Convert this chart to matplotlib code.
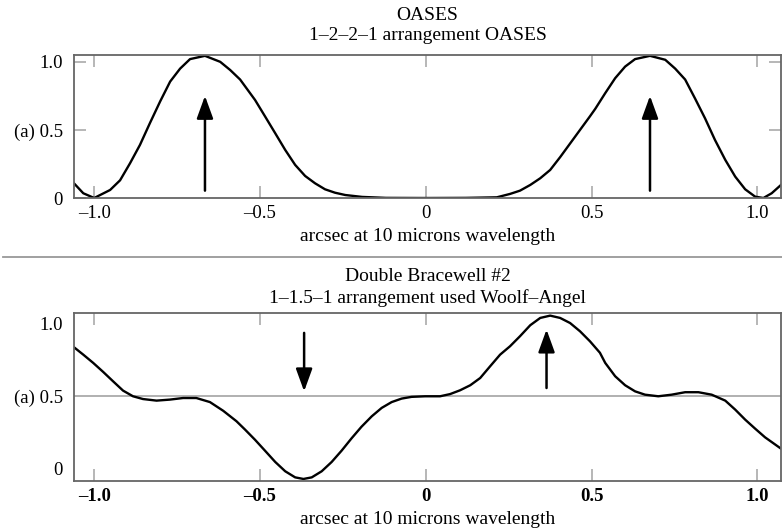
import numpy as np
import matplotlib
matplotlib.use("Agg")
import matplotlib.pyplot as plt
from matplotlib.lines import Line2D

plt.rcParams['font.family'] = ['Liberation Serif', 'DejaVu Serif']

# OASES response, 1-2-2-1 arrangement
oases_x = [-1.061, -1.033, -1.0, -0.952, -0.922, -0.892, -0.862, -0.832, -0.801,
           -0.771, -0.741, -0.711, -0.666, -0.620, -0.590, -0.560, -0.530, -0.515,
           -0.485, -0.454, -0.424, -0.394, -0.364, -0.334, -0.304, -0.274, -0.243,
           -0.192, -0.12, 0.0, 0.12, 0.214, 0.254, 0.284, 0.315, 0.345, 0.375,
           0.405, 0.435, 0.465, 0.495, 0.511, 0.541, 0.571, 0.601, 0.631, 0.676,
           0.722, 0.752, 0.782, 0.812, 0.842, 0.872, 0.903, 0.933, 0.963, 0.993,
           1.018, 1.043, 1.071]
oases_y = [0.108, 0.035, 0.0, 0.059, 0.13, 0.255, 0.39, 0.55, 0.71,
           0.855, 0.95, 1.02, 1.044, 1.0, 0.94, 0.87, 0.77, 0.72,
           0.60, 0.475, 0.353, 0.243, 0.162, 0.108, 0.064, 0.039, 0.022,
           0.008, 0.001, 0.0, 0.001, 0.005, 0.03, 0.054, 0.096, 0.145, 0.206,
           0.30, 0.40, 0.50, 0.60, 0.655, 0.77, 0.88, 0.965, 1.02, 1.044,
           1.015, 0.95, 0.87, 0.73, 0.585, 0.426, 0.28, 0.157, 0.064, 0.01,
           0.0, 0.035, 0.096]

# Double Bracewell #2 response, 1-1.5-1 arrangement
bw_x = [-1.061, -1.033, -1.003, -0.973, -0.943, -0.913, -0.883, -0.853, -0.812,
        -0.772, -0.732, -0.692, -0.651, -0.611, -0.571, -0.545, -0.515, -0.485,
        -0.454, -0.424, -0.394, -0.369, -0.344, -0.314, -0.284, -0.254, -0.224,
        -0.194, -0.163, -0.133, -0.103, -0.073, -0.043, -0.002, 0.043, 0.073,
        0.103, 0.134, 0.164, 0.194, 0.224, 0.254, 0.284, 0.315, 0.345, 0.375,
        0.405, 0.435, 0.465, 0.495, 0.525, 0.541, 0.571, 0.601, 0.631, 0.661,
        0.701, 0.741, 0.782, 0.822, 0.862, 0.903, 0.933, 0.963, 0.993, 1.023,
        1.071]
bw_y = [0.838, 0.787, 0.73, 0.668, 0.603, 0.539, 0.50, 0.481, 0.47,
        0.477, 0.488, 0.488, 0.46, 0.40, 0.328, 0.27, 0.20, 0.125,
        0.047, -0.017, -0.059, -0.07, -0.059, -0.017, 0.047, 0.125, 0.21,
        0.29, 0.362, 0.42, 0.46, 0.484, 0.496, 0.5, 0.5, 0.515,
        0.541, 0.576, 0.626, 0.707, 0.787, 0.845, 0.914, 0.99, 1.04, 1.056,
        1.04, 1.005, 0.948, 0.879, 0.80, 0.73, 0.638, 0.576, 0.534, 0.511,
        0.50, 0.511, 0.528, 0.528, 0.511, 0.47, 0.408, 0.339, 0.277, 0.217,
        0.139]

# arrows: (x, tail y, head y)
oases_arrows = [(-0.666, 0.054, 0.75), (0.676, 0.054, 0.75)]
bw_arrows = [(-0.367, 0.937, 0.534), (0.364, 0.557, 0.96)]

xticks = [-1.0, -0.5, 0.0, 0.5, 1.0]
xtick_labels = ['\u20131.0', '\u20130.5', '0', '0.5', '1.0']
yticks = [0.0, 0.5, 1.0]
ytick_labels = ['0', '(a) 0.5', '1.0']

fig = plt.figure(figsize=(7.82, 5.29), dpi=100)
ax1 = fig.add_axes([0.0946, 0.6257, 0.9041, 0.2703])
ax2 = fig.add_axes([0.0946, 0.0902, 0.9041, 0.3181])


def style_axes(ax, ylim, bold_x=False, ytick_len=8.5):
    ax.set_xlim(-1.061, 1.071)
    ax.set_ylim(*ylim)
    ax.set_xticks(xticks)
    ax.set_xticklabels(xtick_labels, fontweight='bold' if bold_x else 'normal')
    ax.set_yticks(yticks)
    ax.set_yticklabels(ytick_labels)
    ax.tick_params(axis='x', direction='in', length=8.5, width=1.2, color='#aaaaaa',
                   top=True, labelsize=13.5, pad=5)
    ax.tick_params(axis='y', direction='in', length=ytick_len, width=1.2, color='#aaaaaa',
                   right=True, labelsize=13.5, pad=8)
    for s in ax.spines.values():
        s.set_color('#666666')
        s.set_linewidth(1.3)
    ax.set_xlabel('arcsec at 10 microns wavelength', fontsize=14, labelpad=4)


def draw_arrows(ax, arrows):
    for x, y0, y1 in arrows:
        ax.annotate('', xy=(x, y1), xytext=(x, y0),
                    arrowprops=dict(arrowstyle='-|>,head_length=0.55,head_width=0.2',
                                    mutation_scale=25, lw=1.8, color='black',
                                    shrinkA=0, shrinkB=0))


ax1.plot(oases_x, oases_y, color='black', lw=1.7, solid_joinstyle='round')
style_axes(ax1, (0, 1.05))
draw_arrows(ax1, oases_arrows)

ax2.axhline(0.5, color='#aaaaaa', lw=1.3, zorder=1)
ax2.plot(bw_x, bw_y, color='black', lw=1.7, solid_joinstyle='round')
style_axes(ax2, (-0.086, 1.074), bold_x=True, ytick_len=0)
draw_arrows(ax2, bw_arrows)

xc = 0.0946 + 0.9041 / 2
fig.text(xc, 0.9716, 'OASES', ha='center', va='center', fontsize=14)
fig.text(xc, 0.9338, '1\u20132\u20132\u20131 arrangement OASES', ha='center', va='center', fontsize=14)
fig.text(xc, 0.4764, 'Double Bracewell #2', ha='center', va='center', fontsize=14)
fig.text(xc, 0.4367, '1\u20131.5\u20131 arrangement used Woolf\u2013Angel', ha='center', va='center', fontsize=14)

# separator between the two panels
fig.add_artist(Line2D([0.004, 1.0], [1 - 257 / 529, 1 - 257 / 529], color='#999999', lw=1.3))

fig.savefig('out.png', dpi=100)
